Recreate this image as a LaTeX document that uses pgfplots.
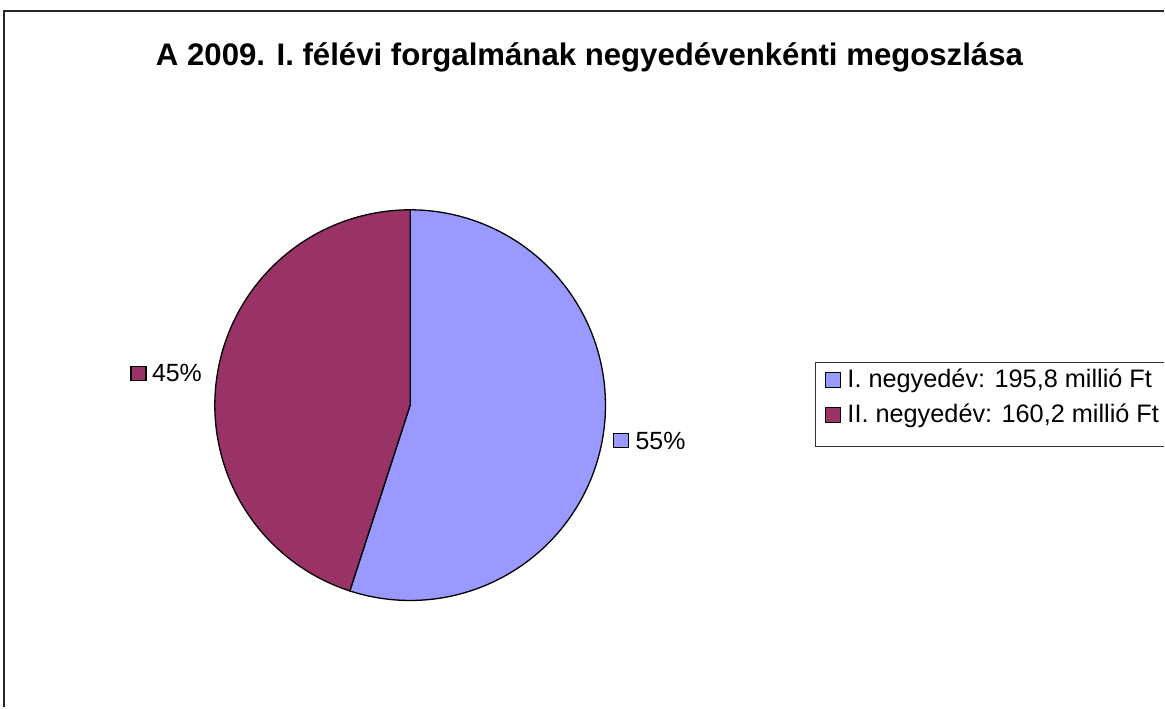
\documentclass[border=0pt]{standalone}
\usepackage{pgfplots}
\pgfplotsset{compat=1.18}
\usepackage{pgfplotstable}
\usepackage{fontspec}
\setmainfont{Liberation Sans}
\definecolor{pieA}{HTML}{9999FF}
\definecolor{pieB}{HTML}{993366}
\pgfplotstableread{
q value
1 195.8
2 160.2
}\piedata
\pgfplotstablegetelem{0}{value}\of\piedata \let\va\pgfplotsretval
\pgfplotstablegetelem{1}{value}\of\piedata \let\vb\pgfplotsretval
\pgfmathsetmacro\total{\va+\vb}
\pgfmathsetmacro\frac{\va/\total}
\pgfmathsetmacro\angA{90-360*\frac}
\begin{document}
\begin{tikzpicture}
\begin{axis}[x=1bp,y=1bp,xmin=0,xmax=1165,ymin=0,ymax=708,hide axis,clip=false]
\path (axis cs:0,0) rectangle (axis cs:1165,708);
% frame
\draw[line width=2bp,black!85] (axis cs:4,0) -- (axis cs:4,697) -- (axis cs:1165,697);
% title
\node[anchor=base,inner sep=0,font=\fontsize{31.3}{34}\selectfont\bfseries] at (axis cs:590,642) {A 2009. I. félévi forgalmának negyedévenkénti megoszlása};
% pie
\addplot[fill=pieA,draw=black,line width=1.3bp,domain=90:\angA,samples=200,variable=\t] ({410.5+195.5*cos(\t)},{302.5+195.5*sin(\t)}) -- (axis cs:410.5,302.5) -- cycle;
\addplot[fill=pieB,draw=black,line width=1.3bp,domain=\angA:-270,samples=200,variable=\t] ({410.5+195.5*cos(\t)},{302.5+195.5*sin(\t)}) -- (axis cs:410.5,302.5) -- cycle;
% data labels
\draw[fill=pieB,line width=1.5bp] (axis cs:131,327) rectangle (axis cs:146,341);
\node[anchor=base west,inner sep=0,font=\fontsize{25}{28}\selectfont] at (axis cs:152,326) {45\%};
\draw[fill=pieA,line width=1.5bp] (axis cs:614,260) rectangle (axis cs:629,274);
\node[anchor=base west,inner sep=0,font=\fontsize{25}{28}\selectfont] at (axis cs:636,258) {55\%};
% legend
\draw[line width=1bp,black!80] (axis cs:1165,345) -- (axis cs:816,345) -- (axis cs:816,261) -- (axis cs:1165,261);
\draw[fill=pieA,line width=1.5bp] (axis cs:826,320) rectangle (axis cs:841,335);
\node[anchor=base west,inner sep=0,font=\fontsize{25.4}{28}\selectfont] at (axis cs:848,320) {I. negyedév: 195,8 millió Ft};
\draw[fill=pieB,line width=1.5bp] (axis cs:826,285) rectangle (axis cs:841,300);
\node[anchor=base west,inner sep=0,font=\fontsize{25.4}{28}\selectfont] at (axis cs:848,285) {II. negyedév: 160,2 millió Ft};
\end{axis}
\end{tikzpicture}
\end{document}
